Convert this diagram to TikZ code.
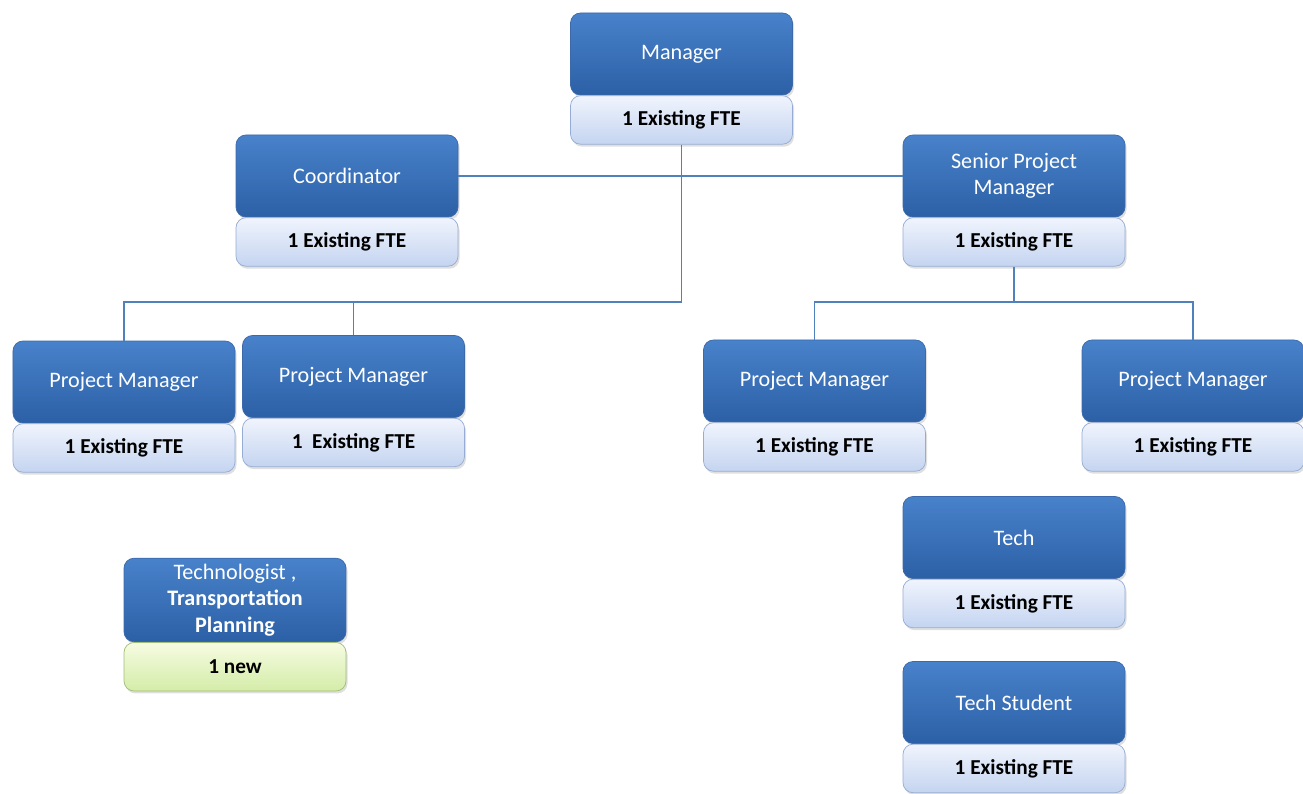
\documentclass[tikz,border=0pt]{standalone}
\usepackage{fontspec}
\setmainfont{Carlito}
\usetikzlibrary{positioning,shadows}

\definecolor{rolehi}{RGB}{72,130,202}
\definecolor{rolelo}{RGB}{44,96,166}
\definecolor{roleedge}{RGB}{60,105,170}
\definecolor{ftehi}{RGB}{240,244,253}
\definecolor{ftelo}{RGB}{196,212,240}
\definecolor{fteedge}{RGB}{150,172,212}
\definecolor{newhi}{RGB}{246,252,226}
\definecolor{newlo}{RGB}{212,236,168}
\definecolor{newedge}{RGB}{160,190,120}
\definecolor{linkblue}{RGB}{79,129,189}

\tikzset{
  rolebox/.style={rectangle, rounded corners=0.2cm, draw=roleedge, top color=rolehi, bottom color=rolelo,
    text=white, minimum width=4.44cm, minimum height=1.64cm, align=center,
    font=\fontsize{12.6}{15}\selectfont, drop shadow={opacity=0.25, shadow xshift=0.03cm, shadow yshift=-0.05cm}},
  ftebox/.style={rectangle, rounded corners=0.2cm, draw=fteedge, top color=ftehi, bottom color=ftelo,
    text=black, minimum width=4.44cm, minimum height=0.97cm, below=0pt of #1,
    font=\bfseries\fontsize{12.1}{14}\selectfont, drop shadow={opacity=0.25, shadow xshift=0.03cm, shadow yshift=-0.05cm}},
  newbox/.style={ftebox=#1, draw=newedge, top color=newhi, bottom color=newlo},
  link/.style={draw=linkblue, line width=0.8pt}
}

\begin{document}
\begin{tikzpicture}
  \useasboundingbox (0,0) rectangle (26.06,-15.88);

  % top of the chart
  \node[rolebox] (mgr) at (13.63,-1.08) {Manager};
  \node[ftebox=mgr] (mgrfte) {1 Existing FTE};

  \node[rolebox] (coord) at (6.94,-3.52) {Coordinator};
  \node[ftebox=coord] (coordfte) {1 Existing FTE};

  \node[rolebox] (spm) at (20.28,-3.52) {Senior Project\\Manager};
  \node[ftebox=spm] (spmfte) {1 Existing FTE};

  % project managers
  \node[rolebox] (pmA) at (2.48,-7.64) {Project Manager};
  \node[ftebox=pmA] (pmAfte) {1 Existing FTE};

  \node[rolebox] (pmB) at (7.07,-7.53) {Project Manager};
  \node[ftebox=pmB] (pmBfte) {1\ \ Existing FTE};

  \node[rolebox] (pmC) at (16.29,-7.62) {Project Manager};
  \node[ftebox=pmC] (pmCfte) {1 Existing FTE};

  \node[rolebox] (pmD) at (23.86,-7.62) {Project Manager};
  \node[ftebox=pmD] (pmDfte) {1 Existing FTE};

  % techs
  \node[rolebox] (tech) at (20.28,-10.75) {Tech};
  \node[ftebox=tech] (techfte) {1 Existing FTE};

  \node[rolebox] (stud) at (20.28,-14.05) {Tech Student};
  \node[ftebox=stud] (studfte) {1 Existing FTE};

  \node[rolebox] (tpl) at (4.70,-12.00) {Technologist ,\\\textbf{Transportation}\\\textbf{Planning}};
  \node[newbox=tpl] (tplnew) {1 new};

  % connectors
  \coordinate (jl) at (13.63,-6.04);
  \coordinate (jr) at (20.28,-6.04);
  \draw[link] (coord.east) -- (spm.west);
  \draw[link] (mgrfte.south) -- (jl) -| (pmA.north);
  \draw[link] (jl) -| (pmB.north);
  \draw[link] (spmfte.south) -- (jr);
  \draw[link] (pmC.north) |- (jr) -| (pmD.north);
\end{tikzpicture}
\end{document}
